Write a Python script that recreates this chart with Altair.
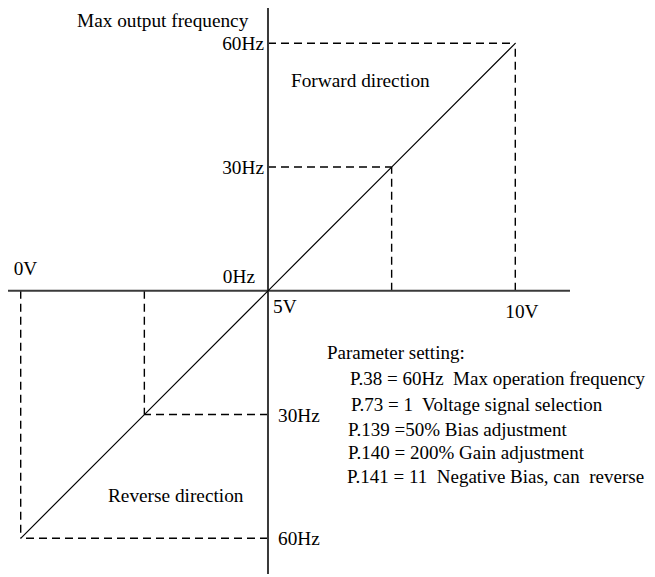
import altair as alt
import pandas as pd

# ---- data ----
volts = [0, 2.5, 5, 7.5, 10]          # analog input voltage (V)
freq = [-60, -30, 0, 30, 60]          # output frequency (Hz, negative = reverse)
freq_labels = ["60Hz", "30Hz", "0Hz", "30Hz", "60Hz"]
volt_ticks = [0, 5, 10]
volt_labels = ["0V", "5V", "10V"]
params = [
    "Parameter setting:",
    "P.38 = 60Hz\u00a0 Max operation frequency",
    "P.73 = 1\u00a0 Voltage signal selection",
    "P.139 =50% Bias adjustment",
    "P.140 = 200% Gain adjustment",
    "P.141 = 11\u00a0 Negative Bias, can\u00a0 reverse",
]

FONT = "Liberation Serif"
FS = 19.3
FS_PAR = 19.0

xs = alt.Scale(domain=[-0.2568, 12.663], nice=False, zero=False)
ys = alt.Scale(domain=[-68.65, 68.56], nice=False, zero=False)


def X(f="x"):
    return alt.X(f"{f}:Q", scale=xs, axis=None)


def Y(f="y"):
    return alt.Y(f"{f}:Q", scale=ys, axis=None)


# characteristic line
line_df = pd.DataFrame({"x": volts, "y": freq})
curve = alt.Chart(line_df).mark_line(color="black", strokeWidth=1.2).encode(x=X(), y=Y())

# dashed guide lines
segs = []
for v, f in zip(volts, freq):
    if f == 0:
        continue
    segs.append({"x": 5, "x2": v, "y": f, "y2": f})
    segs.append({"x": v, "x2": v, "y": 0, "y2": f})
guides = alt.Chart(pd.DataFrame(segs)).mark_rule(
    color="black", strokeWidth=1.4, strokeDash=[8, 5]
).encode(x=X(), x2="x2:Q", y=Y(), y2="y2:Q")

# axes
axes_df = pd.DataFrame([
    {"x": -0.2568, "x2": 11.106, "y": 0, "y2": 0},
    {"x": 5, "x2": 5, "y": 68.56, "y2": -68.65},
])
axes = alt.Chart(axes_df).mark_rule(color="#3a3a3a", strokeWidth=2).encode(
    x=X(), x2="x2:Q", y=Y(), y2="y2:Q"
)

# frequency labels
fl = pd.DataFrame({"x": [5] * 5, "y": freq, "t": freq_labels})
fwd_lab = alt.Chart(fl[fl.y > 0]).mark_text(
    font=FONT, fontSize=FS, align="right", baseline="middle", dx=-4, dy=1
).encode(x=X(), y=Y(), text="t:N")
rev_lab = alt.Chart(fl[fl.y < 0]).mark_text(
    font=FONT, fontSize=FS, align="left", baseline="middle", dx=10, dy=1
).encode(x=X(), y=Y(), text="t:N")
zero_lab = alt.Chart(fl[fl.y == 0]).mark_text(
    font=FONT, fontSize=FS, align="right", baseline="alphabetic", dx=-13, dy=-8
).encode(x=X(), y=Y(), text="t:N")

# voltage labels
vl = pd.DataFrame({"x": volt_ticks, "y": [0, 0, 0], "t": volt_labels})
v0 = alt.Chart(vl[vl.x == 0]).mark_text(
    font=FONT, fontSize=FS, align="left", baseline="alphabetic", dx=-7, dy=-16
).encode(x=X(), y=Y(), text="t:N")
v5 = alt.Chart(vl[vl.x == 5]).mark_text(
    font=FONT, fontSize=FS, align="left", baseline="alphabetic", dx=5, dy=22
).encode(x=X(), y=Y(), text="t:N")
v10 = alt.Chart(vl[vl.x == 10]).mark_text(
    font=FONT, fontSize=FS, align="left", baseline="alphabetic", dx=-10, dy=27
).encode(x=X(), y=Y(), text="t:N")

# annotations
ann = pd.DataFrame([
    {"x": 1.138, "y": 63.95, "t": "Max output frequency"},
    {"x": 5.465, "y": 49.48, "t": "Forward direction"},
    {"x": 1.765, "y": -51.2, "t": "Reverse direction"},
])
ann_txt = alt.Chart(ann).mark_text(
    font=FONT, fontSize=FS, align="left", baseline="alphabetic"
).encode(x=X(), y=Y(), text="t:N")

pdf = pd.DataFrame({
    "x": [6.193, 6.658, 6.679, 6.618, 6.618, 6.598],
    "y": [-16.53, -22.84, -29.14, -35.2, -40.78, -46.6],
    "t": params,
})
par_txt = alt.Chart(pdf).mark_text(
    font=FONT, fontSize=FS_PAR, align="left", baseline="alphabetic"
).encode(x=X(), y=Y(), text="t:N")

chart = alt.layer(
    guides, axes, curve, fwd_lab, rev_lab, zero_lab, v0, v5, v10, ann_txt, par_txt
).properties(
    width=639, height=566, autosize=alt.AutoSizeParams(type="none"), padding=0
).configure_view(stroke=None)

chart.save("out.html", embed_options={"renderer": "svg", "actions": False})
